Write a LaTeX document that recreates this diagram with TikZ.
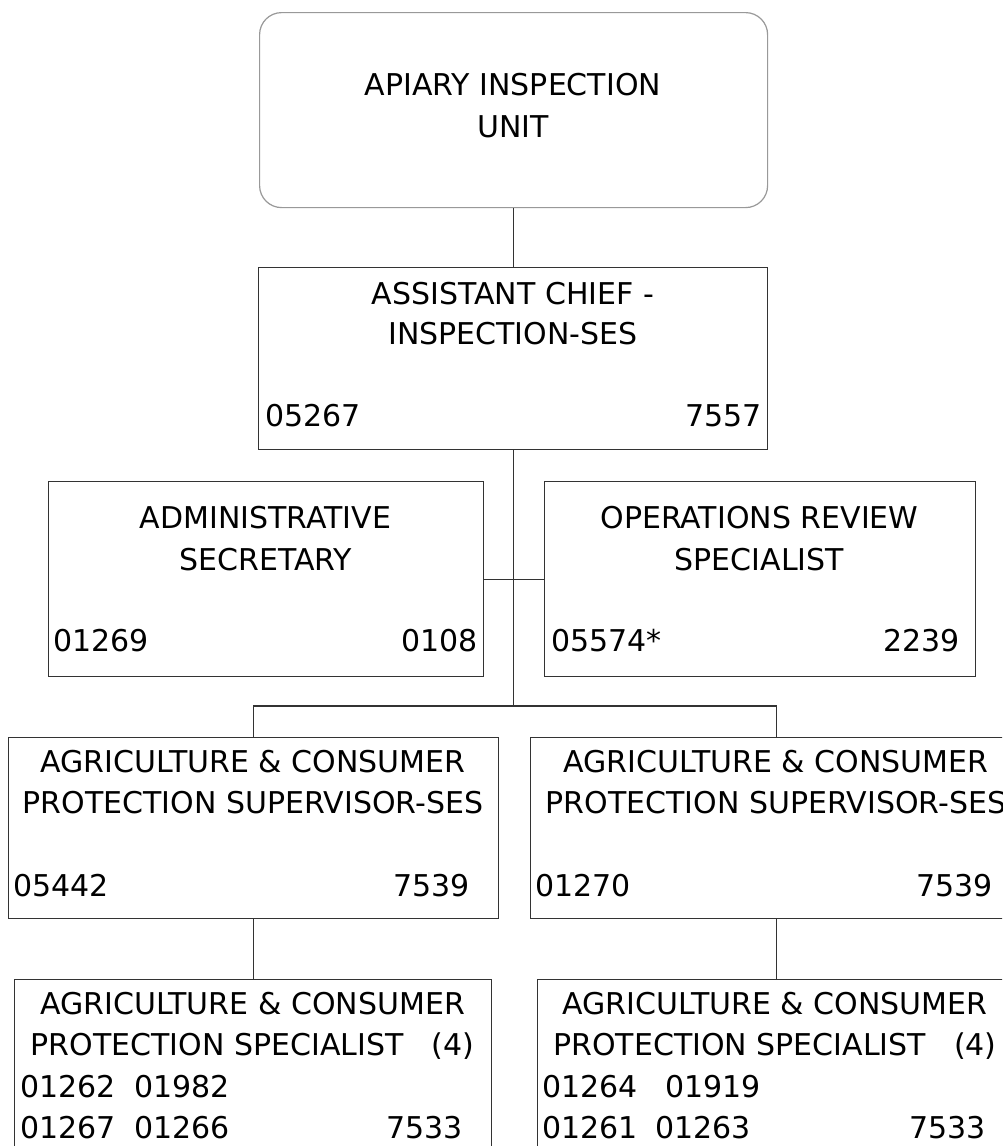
\documentclass[tikz,border=0pt]{standalone}
\usepackage{fontspec}
\setmainfont{DejaVu Sans}

\tikzset{
  orgbox/.style={draw=black!80, line width=1.2pt, anchor=north west, inner sep=0pt},
  unitbox/.style={orgbox, draw=black!40, rounded corners=22pt},
  title/.style={anchor=base, font=\fontsize{30}{36}\selectfont, inner sep=0pt},
  lcode/.style={anchor=base west, font=\fontsize{30}{36}\selectfont, inner sep=0pt},
  rcode/.style={anchor=base east, font=\fontsize{30}{36}\selectfont, inner sep=0pt},
  link/.style={draw=black!80, line width=1.2pt},
}

\begin{document}
\begin{tikzpicture}[x=1pt, y=-1pt]
  \clip (0,0) rectangle (1002,1146);
  \fill[white] (0,0) rectangle (1002,1146);

  % boxes
  \node[unitbox, minimum width=508pt, minimum height=195pt] (unit) at (259,12) {};
  \node[orgbox, minimum width=509pt, minimum height=182pt] (asst) at (258,267) {};
  \node[orgbox, minimum width=435pt, minimum height=195pt] (admin) at (48,481) {};
  \node[orgbox, minimum width=431pt, minimum height=195pt] (ops) at (544,481) {};
  \node[orgbox, minimum width=490pt, minimum height=181pt] (supL) at (8,737) {};
  \node[orgbox, minimum width=492pt, minimum height=181pt] (supR) at (530,737) {};
  \node[orgbox, minimum width=477pt, minimum height=200pt] (specL) at (14,979) {};
  \node[orgbox, minimum width=478pt, minimum height=200pt] (specR) at (537,979) {};

  % connectors
  \coordinate (bar) at (513.5,706);
  \draw[link] (unit.south) -- (unit.south |- asst.north);
  \draw[link] (asst.south) -- (asst.south |- bar);
  \draw[link] (admin.east) -- (ops.west);
  \draw[link] (supL.north) |- (bar) -| (supR.north);
  \draw[link] (supL.south) -- (supL.south |- specL.north);
  \draw[link] (supR.south) -- (supR.south |- specR.north);

  % texts
  \node[title] (unit-a) at (513,95) {APIARY INSPECTION};
  \node[title] (unit-b) at (513,137) {UNIT};

  \node[title] (asst-a) at (513,304) {ASSISTANT CHIEF -};
  \node[title] (asst-b) at (513,344) {INSPECTION-SES};
  \node[lcode] (asst-p) at (265,426) {05267};
  \node[rcode] (asst-c) at (762,426) {7557};

  \node[title] (admin-a) at (265.5,528) {ADMINISTRATIVE};
  \node[title] (admin-b) at (265.5,570) {SECRETARY};
  \node[lcode] (admin-p) at (53,651) {01269};
  \node[rcode] (admin-c) at (478,651) {0108};

  \node[title] (ops-a) at (759.5,528) {OPERATIONS REVIEW};
  \node[title] (ops-b) at (759.5,570) {SPECIALIST};
  \node[lcode] (ops-p) at (551,651) {05574*};
  \node[rcode] (ops-c) at (960,651) {2239};

  \node[title] (supL-a) at (253,772) {AGRICULTURE \& CONSUMER};
  \node[title] (supL-b) at (253,813) {PROTECTION SUPERVISOR-SES};
  \node[lcode] (supL-p) at (13,896) {05442};
  \node[rcode] (supL-c) at (470,896) {7539};

  \node[title] (supR-a) at (776,772) {AGRICULTURE \& CONSUMER};
  \node[title] (supR-b) at (776,813) {PROTECTION SUPERVISOR-SES};
  \node[lcode] (supR-p) at (535,896) {01270};
  \node[rcode] (supR-c) at (993,896) {7539};

  \node[title] (specL-a) at (252.5,1014) {AGRICULTURE \& CONSUMER};
  \node[title] (specL-b) at (252.5,1055) {PROTECTION SPECIALIST\hspace{28pt}(4)};
  \node[lcode] (specL-p1) at (20,1097) {01262};
  \node[lcode] (specL-p2) at (134,1097) {01982};
  \node[lcode] (specL-p3) at (20,1138) {01267};
  \node[lcode] (specL-p4) at (134,1138) {01266};
  \node[rcode] (specL-c) at (463,1138) {7533};

  \node[title] (specR-a) at (775,1014) {AGRICULTURE \& CONSUMER};
  \node[title] (specR-b) at (775,1055) {PROTECTION SPECIALIST\hspace{28pt}(4)};
  \node[lcode] (specR-p1) at (542,1097) {01264};
  \node[lcode] (specR-p2) at (665,1097) {01919};
  \node[lcode] (specR-p3) at (542,1138) {01261};
  \node[lcode] (specR-p4) at (655,1138) {01263};
  \node[rcode] (specR-c) at (986,1138) {7533};
\end{tikzpicture}
\end{document}
